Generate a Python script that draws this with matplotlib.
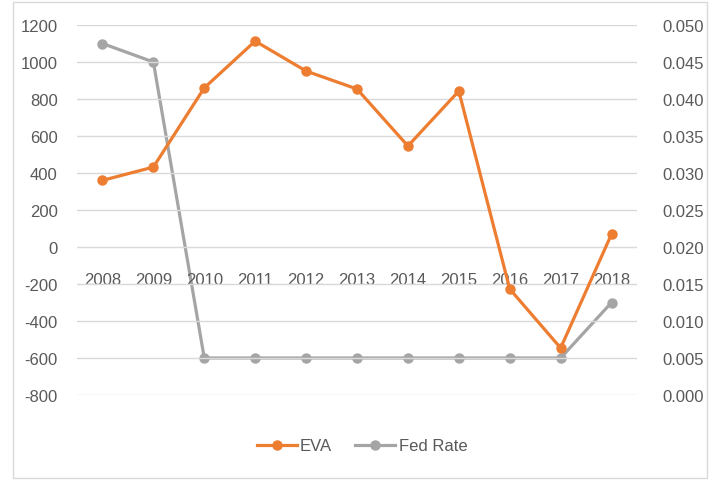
import matplotlib.pyplot as plt
from matplotlib.patches import Rectangle

plt.rcParams['font.family'] = ['Liberation Sans', 'DejaVu Sans']
plt.rcParams['axes.unicode_minus'] = False

# Data
years = ['2008', '2009', '2010', '2011', '2012', '2013', '2014', '2015', '2016', '2017', '2018']
eva = [360, 432, 860, 1113, 951, 854, 546, 843, -227, -546, 70]
fed_rate = [0.0475, 0.045, 0.005, 0.005, 0.005, 0.005, 0.005, 0.005, 0.005, 0.005, 0.0125]

orange = '#ED7D31'
gray = '#A5A5A5'
text_color = '#595959'
grid_color = '#D9D9D9'
fs = 12

fig = plt.figure(figsize=(7.11, 4.81), dpi=100)
ax = fig.add_axes([77 / 711, 1 - 396 / 481, 560 / 711, 370 / 481])
ax2 = ax.twinx()

x = list(range(len(years)))

# Fed rate drawn first so EVA sits on top
ax2.plot(x, fed_rate, color=gray, lw=2.3, marker='o', markersize=6.5, label='Fed Rate', zorder=3)
ax.plot(x, eva, color=orange, lw=2.3, marker='o', markersize=6.5, label='EVA', zorder=4)
ax.set_zorder(ax2.get_zorder() + 1)
ax.patch.set_visible(False)

ax.set_xlim(-0.5, len(years) - 0.5)
ax.set_ylim(-800, 1200)
ax.set_yticks(range(-800, 1201, 200))
ax2.set_ylim(0, 0.05)
ax2.set_yticks([i * 0.005 for i in range(11)])
ax2.set_yticklabels([f'{i * 0.005:.3f}' for i in range(11)])

ax.grid(axis='y', color=grid_color, lw=1)
ax.set_axisbelow(True)

# category labels sit at the zero line, like Excel
ax.spines['bottom'].set_position(('data', 0))
ax.set_xticks(x)
ax.set_xticklabels(years)

for a in (ax, ax2):
    for s in a.spines.values():
        s.set_visible(False)
    a.tick_params(length=0, colors=text_color, labelsize=fs)
ax.tick_params(axis='x', pad=18)
ax.tick_params(axis='y', pad=14)
ax2.tick_params(axis='y', pad=18)

h1, l1 = ax.get_legend_handles_labels()
h2, l2 = ax2.get_legend_handles_labels()
fig.legend(h1 + h2, l1 + l2, loc='center', bbox_to_anchor=(362 / 711, 1 - 447 / 481),
           ncol=2, frameon=False, fontsize=fs, handlelength=2.4, columnspacing=1.4,
           handletextpad=0.2, labelcolor=text_color)

fig.patches.append(Rectangle((13 / 711, 2 / 481), 694 / 711, 476 / 481, transform=fig.transFigure,
                             fill=False, edgecolor=grid_color, lw=1))

fig.savefig('out.png', dpi=100)
